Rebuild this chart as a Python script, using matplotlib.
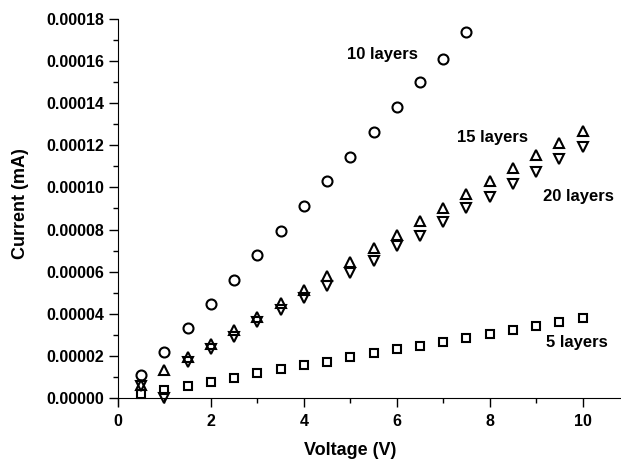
import matplotlib
matplotlib.use("Agg")
import matplotlib.pyplot as plt
from matplotlib.ticker import MultipleLocator, FormatStrFormatter

# ~~~~~~~~ data ~~~~~~~~
volts = [0.5, 1.0, 1.5, 2.0, 2.5, 3.0, 3.5, 4.0, 4.5, 5.0,
         5.5, 6.0, 6.5, 7.0, 7.5, 8.0, 8.5, 9.0, 9.5, 10.0]

volts_10 = volts[:15]
cur_10 = [1.10e-5, 2.20e-5, 3.33e-5, 4.46e-5, 5.60e-5, 6.78e-5, 7.92e-5, 9.11e-5,
          1.030e-4, 1.146e-4, 1.265e-4, 1.380e-4, 1.499e-4, 1.612e-4, 1.738e-4]

cur_15 = [0.62e-5, 1.33e-5, 1.97e-5, 2.56e-5, 3.24e-5, 3.84e-5, 4.50e-5, 5.14e-5,
          5.81e-5, 6.44e-5, 7.10e-5, 7.76e-5, 8.40e-5, 9.03e-5, 9.70e-5, 1.030e-4,
          1.090e-4, 1.152e-4, 1.213e-4, 1.268e-4]

cur_20 = [0.55e-5, 0.0, 1.73e-5, 2.33e-5, 2.92e-5, 3.59e-5, 4.16e-5, 4.75e-5,
          5.33e-5, 5.94e-5, 6.52e-5, 7.20e-5, 7.71e-5, 8.35e-5, 9.03e-5, 9.55e-5,
          1.014e-4, 1.075e-4, 1.133e-4, 1.194e-4]

cur_5 = [0.19e-5, 0.38e-5, 0.57e-5, 0.78e-5, 0.97e-5, 1.17e-5, 1.37e-5, 1.57e-5,
         1.73e-5, 1.94e-5, 2.13e-5, 2.32e-5, 2.48e-5, 2.67e-5, 2.87e-5, 3.03e-5,
         3.24e-5, 3.40e-5, 3.59e-5, 3.78e-5]

labels = ["10 layers", "15 layers", "20 layers", "5 layers"]
label_pos = [(5.7, 1.633e-4), (8.06, 1.239e-4), (9.92, 0.959e-4), (9.88, 0.263e-4)]

# ~~~~~~~~ style ~~~~~~~~
plt.rcParams['font.family'] = ['Liberation Sans', 'DejaVu Sans']
plt.rcParams['font.weight'] = 'bold'
plt.rcParams['font.size'] = 11.5

fig = plt.figure(figsize=(6.21, 4.59), dpi=100)
ax = fig.add_axes([0.19, 0.1155, 0.808, 0.8431])

mk = dict(linestyle='none', markerfacecolor='none', markeredgecolor='black',
          markeredgewidth=1.5, clip_on=False)
ax.plot(volts_10, cur_10, marker='o', markersize=7.2, **mk)
ax.plot(volts, cur_15, marker='^', markersize=7.8, **mk)
ax.plot(volts, cur_20, marker='v', markersize=7.8, **mk)
ax.plot(volts, cur_5, marker='s', markersize=5.6, **mk)

for txt, (x, y) in zip(labels, label_pos):
    ax.text(x, y, txt, ha='center', va='center', fontsize=12, fontweight='bold')

ax.set_xlim(0, 10.8)
ax.set_ylim(-0.38e-5, 0.00018)

ax.spines['top'].set_visible(False)
ax.spines['right'].set_visible(False)
ax.spines['bottom'].set_position(('data', 0))

ax.xaxis.set_major_locator(MultipleLocator(2))
ax.xaxis.set_minor_locator(MultipleLocator(1))
ax.yaxis.set_major_locator(MultipleLocator(0.00002))
ax.yaxis.set_minor_locator(MultipleLocator(0.00001))
ax.yaxis.set_major_formatter(FormatStrFormatter('%.5f'))

ax.tick_params(which='major', direction='out', length=6.5, width=1)
ax.tick_params(which='minor', direction='out', length=3.5, width=1)
ax.tick_params(axis='x', pad=5)

ax.set_xlabel("Voltage (V)", fontweight='bold', fontsize=13)
ax.set_ylabel("Current (mA)", fontweight='bold', fontsize=13)
ax.xaxis.set_label_coords(0.462, -0.114)
ax.xaxis.label.set_va('center')
ax.yaxis.set_label_coords(-0.195, 0.522)
ax.yaxis.label.set_va('center')

fig.savefig("out.png", dpi=100)
